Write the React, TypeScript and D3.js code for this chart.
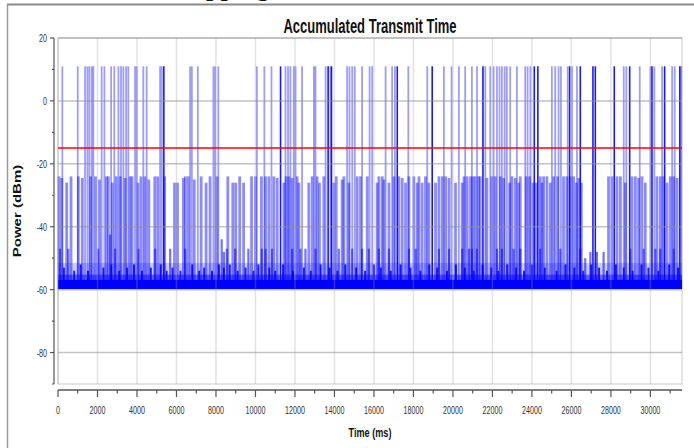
import React from 'react';
import * as d3 from 'd3';

const X_MAX = 31600;
const Y_MIN = -90;
const Y_MAX = 20;
const THRESHOLD = -15;
const FLOOR_BOTTOM = -59.8;
const FLOOR_SOLID_TOP = -56.8;
const FLOOR_HAZE_TOP = -55.2;
const FLOOR_MIST_TOP = -51.5;
const HIGH_LEVEL = 11;

const TITLE = 'Accumulated Transmit Time';
const X_LABEL = 'Time (ms)';
const Y_LABEL = 'Power (dBm)';

const xTickValues = [0, 2000, 4000, 6000, 8000, 10000, 12000, 14000, 16000, 18000, 20000, 22000, 24000, 26000, 28000, 30000];
const xMinorValues = [1000, 3000, 5000, 7000, 9000, 11000, 13000, 15000, 17000, 19000, 21000, 23000, 25000, 27000, 29000, 31000];
const yTickValues = [20, 0, -20, -40, -60, -80];
const yMinorValues = [10, -10, -30, -50, -70, -90];

// bursts reaching ~ +11 dBm (time in ms)
const highSpikes = [
  220, 1000, 1370, 1490, 1590, 1710, 1790, 2210, 2350, 2690, 2850, 3060, 3190, 3310, 3450, 3560,
  3900, 3990, 4320, 4490, 5170, 5260, 6690, 6780, 7080, 7870, 7960, 8120, 10070, 10450,
  10810, 11520, 11650, 11770, 11940, 12030, 12360, 12960, 13040, 13550, 13800, 14640, 14760,
  14900, 15030, 15400, 15780, 15910, 16590, 16920, 17060, 17740, 18700, 19540, 19930,
  20300, 20620, 20960, 21220, 21640, 21890, 22060, 22230, 22360, 22480, 22620, 22730, 22900,
  23240, 23660, 23780, 23920, 25010, 25180, 25350, 25470, 25810, 26030, 26280, 28650, 28780,
  29460, 30000, 30200, 30590, 31100, 31230, 31560,
];
// the darker (overlapping) high bursts
const highDark = [
  5360, 11270, 13680, 13850, 17180, 18950, 21520, 24120, 24300, 25910, 26450, 27090, 27210,
  28170, 28950, 30080, 30720, 31490,
];
// bursts reaching about -24 dBm: [time, level]
const midSpikes: [number, number][] = [
  [50, -24], [190, -24.5], [440, -26], [660, -24], [1030, -24], [1230, -24.5], [1650, -24], [1900, -24],
  [2100, -25], [2450, -24], [2550, -24], [2750, -26], [2950, -24], [3150, -24], [3400, -24.5], [3650, -24],
  [3750, -24], [4050, -26], [4200, -24], [4400, -24], [4600, -25], [4900, -24], [5050, -24], [5400, -24],
  [5900, -26], [6050, -26], [6350, -24.5], [6450, -24], [6600, -24], [6900, -25], [7250, -24], [7500, -26],
  [7700, -24], [8050, -24], [8600, -24], [8850, -26], [9000, -26], [9200, -24], [9400, -26], [9800, -24],
  [10000, -24], [10300, -24], [10510, -24], [10680, -24], [10930, -24], [11100, -24.5], [11440, -26],
  [11550, -24], [11690, -24], [11860, -24.5], [12110, -24], [12200, -26], [12700, -26], [12870, -24],
  [13120, -24], [13240, -26], [13460, -24], [13970, -26], [14090, -24], [14390, -25], [14480, -24],
  [14730, -26], [15150, -24], [15320, -24], [15660, -24], [16160, -26], [16250, -24], [16420, -24],
  [16500, -25], [16760, -26], [17010, -24], [17260, -24], [17430, -24.5], [17600, -26], [17770, -24],
  [18020, -24], [18190, -26], [18280, -24], [18440, -26], [18610, -24], [18780, -26], [19120, -26],
  [19290, -24], [19460, -24], [19630, -24], [19800, -24.5], [20130, -26], [20470, -26], [20560, -24],
  [20720, -24], [20890, -24], [21010, -24], [21130, -24], [21300, -24], [21380, -24], [21720, -24.5],
  [21970, -24], [22140, -24], [22400, -24], [22570, -24.5], [22870, -26], [22990, -24], [23160, -24.5],
  [23330, -26], [23410, -24], [23710, -24], [23880, -24], [24050, -26], [24220, -26], [24420, -24],
  [24510, -26], [24590, -24], [24760, -24], [24930, -26], [25100, -24], [25300, -24], [25600, -24],
  [25770, -24], [25940, -24], [26110, -24], [26250, -26], [26370, -24.5], [26500, -26], [27880, -24],
  [28050, -24], [28310, -24], [28480, -24], [28730, -26], [29070, -24], [29240, -24], [29400, -24.5],
  [29570, -24], [29740, -26], [30330, -24], [30500, -24], [30670, -24], [30840, -26], [31010, -24],
  [31180, -24], [31350, -24.5],
];
// short bursts in the -42 ... -50 dBm band: [time, level]
const lowSpikes: [number, number][] = [
  [100, -47], [520, -47], [2040, -47], [2640, -42.5], [2890, -47], [4070, -47], [4920, -47], [5680, -47],
  [6440, -47], [8290, -44], [8400, -48], [8550, -47], [8970, -47], [9640, -47], [10320, -47], [10510, -47],
  [10840, -47], [11860, -47], [12280, -47], [12530, -47], [13040, -47], [14220, -47], [14900, -47],
  [15400, -47], [15740, -47], [16250, -47], [16760, -47], [17770, -47], [18110, -47], [19290, -47],
  [19800, -47], [20470, -47], [20810, -47], [20960, -47], [21210, -47], [22230, -47], [22480, -47],
  [23070, -47], [23410, -47], [24420, -47], [25440, -47], [26450, -47], [26700, -50], [26960, -48],
  [27290, -48], [27630, -48], [28980, -47], [29660, -47], [30250, -47], [30500, -47], [31180, -47],
];
// ragged top of the noise floor: [time, level]
const rippleSpikes: [number, number][] = [
  [300, -53], [820, -54], [1150, -52], [1520, -54], [2300, -53], [2700, -52], [3100, -54], [3500, -53],
  [3850, -52], [4250, -54], [4700, -53], [5200, -52], [5500, -54], [5800, -53], [6200, -54], [6800, -52],
  [7150, -54], [7400, -53], [7800, -54], [8150, -52], [8400, -53], [8700, -52], [9100, -54], [9500, -53],
  [9900, -54], [10150, -52], [10700, -53], [11000, -54], [11400, -52], [11900, -54], [12450, -53],
  [12800, -54], [13300, -52], [13750, -53], [14150, -54], [14550, -52], [15100, -53], [15550, -54],
  [16000, -52], [16350, -53], [16850, -54], [17350, -52], [17850, -53], [18350, -54], [18800, -52],
  [19200, -53], [19700, -54], [20150, -52], [20600, -53], [21050, -54], [21500, -52], [21950, -53],
  [22300, -54], [22750, -52], [23200, -53], [23600, -54], [24000, -52], [24650, -53], [25250, -54],
  [25700, -52], [26150, -53], [26600, -54], [27000, -52], [27400, -53], [27800, -54], [28250, -52],
  [28650, -53], [29100, -54], [29550, -52], [29900, -53], [30400, -54], [30950, -52], [31400, -53],
];

const W = 694;
const H = 448;
const PLOT = { left: 58, right: 682, top: 38, bottom: 384 };
const Y_AXIS_X = 54;
const X_AXIS_Y = 390;
const FONT = '"Liberation Sans", Arial, sans-serif';
const SQUASH = 0.65;

export default function App() {
  const x = d3.scaleLinear().domain([0, X_MAX]).range([PLOT.left, PLOT.right]);
  const y = d3.scaleLinear().domain([Y_MIN, Y_MAX]).range([PLOT.bottom, PLOT.top]);
  const yFloor = y(FLOOR_BOTTOM);

  return (
    <div style={{ position: 'absolute', left: 0, top: 0, width: W, height: H, background: '#fff' }}>
      <svg width={W} height={H} viewBox={`0 0 ${W} ${H}`} style={{ display: 'block' }}>
        <rect x={0} y={0} width={W} height={H} fill="#fff" />
        {/* clipped caption from the page above */}
        <text x={206} y={-4} fontFamily='"Liberation Serif", serif' fontWeight="bold" fontSize={26} fill="#111">
          pping
        </text>
        {/* outer frame */}
        <line x1={7} x2={W} y1={4.5} y2={4.5} stroke="#8a8a8a" strokeWidth={2} />
        <line x1={7.5} x2={7.5} y1={4} y2={H} stroke="#9a9a9a" strokeWidth={1.5} />

        {/* title */}
        <g transform={`translate(${(PLOT.left + PLOT.right) / 2},33) scale(${SQUASH},1)`}>
          <text textAnchor="middle" fontFamily={FONT} fontWeight="bold" fontSize={20} fill="#111">
            {TITLE}
          </text>
        </g>

        <rect x={PLOT.left} y={PLOT.top} width={PLOT.right - PLOT.left} height={PLOT.bottom - PLOT.top} fill="#fff" stroke="#dcdcdc" strokeWidth={1.5} />

        {/* noise floor */}
        <rect x={PLOT.left} width={PLOT.right - PLOT.left} y={y(FLOOR_MIST_TOP)} height={y(FLOOR_HAZE_TOP) - y(FLOOR_MIST_TOP)} fill="#0000ff" opacity={0.2} />
        <rect x={PLOT.left} width={PLOT.right - PLOT.left} y={y(FLOOR_HAZE_TOP)} height={y(FLOOR_SOLID_TOP) - y(FLOOR_HAZE_TOP)} fill="#0000ff" opacity={0.6} />
        <rect x={PLOT.left} width={PLOT.right - PLOT.left} y={y(FLOOR_SOLID_TOP)} height={yFloor - y(FLOOR_SOLID_TOP)} fill="#0000ff" />

        {rippleSpikes.map(([t, v], i) => (
          <line key={'r' + i} x1={x(t)} x2={x(t)} y1={yFloor} y2={y(v)} stroke="#0000ff" strokeWidth={2} opacity={0.85} />
        ))}
        {lowSpikes.map(([t, v], i) => (
          <line key={'l' + i} x1={x(t)} x2={x(t)} y1={yFloor} y2={y(v)} stroke="#0000ff" strokeWidth={2.2} opacity={0.55} />
        ))}
        {midSpikes.map(([t, v], i) => (
          <line key={'m' + i} x1={x(t)} x2={x(t)} y1={yFloor} y2={y(v)} stroke="#0000ff" strokeWidth={2.8} opacity={0.45} />
        ))}
        {highSpikes.map((t, i) => (
          <line key={'h' + i} x1={x(t)} x2={x(t)} y1={yFloor} y2={y(HIGH_LEVEL)} stroke="#0000ff" strokeWidth={1.8} opacity={0.38} />
        ))}
        {highDark.map((t, i) => (
          <line key={'d' + i} x1={x(t)} x2={x(t)} y1={yFloor} y2={y(HIGH_LEVEL)} stroke="#0000ff" strokeWidth={1.6} opacity={0.9} />
        ))}

        {/* grid on top */}
        {xTickValues.map((v) => (
          <line key={'gx' + v} x1={x(v)} x2={x(v)} y1={PLOT.top} y2={PLOT.bottom} stroke="#a0a0a0" strokeOpacity={0.3} strokeWidth={1.5} />
        ))}
        {yTickValues.map((v) => (
          <line key={'gy' + v} x1={PLOT.left} x2={PLOT.right} y1={y(v)} y2={y(v)} stroke="#909090" strokeOpacity={0.55} strokeWidth={1.5} />
        ))}

        {/* threshold */}
        <line x1={PLOT.left} x2={PLOT.right} y1={y(THRESHOLD)} y2={y(THRESHOLD)} stroke="#ff0000" strokeWidth={1.5} />

        {/* y axis */}
        <line x1={Y_AXIS_X} x2={Y_AXIS_X} y1={PLOT.top} y2={PLOT.bottom} stroke="#555" strokeWidth={1.2} />
        {yTickValues.map((v) => (
          <g key={'yt' + v}>
            <line x1={Y_AXIS_X - 4} x2={Y_AXIS_X} y1={y(v)} y2={y(v)} stroke="#555" strokeWidth={1.2} />
            <g transform={`translate(47,${y(v) + 4}) scale(${SQUASH},1)`}>
              <text textAnchor="end" fontFamily={FONT} fontSize={11} fill="#333">{v}</text>
            </g>
          </g>
        ))}
        {yMinorValues.map((v) => (
          <line key={'ym' + v} x1={Y_AXIS_X - 2} x2={Y_AXIS_X} y1={y(v)} y2={y(v)} stroke="#555" strokeWidth={1.2} />
        ))}
        <g transform={`translate(21,${(PLOT.top + PLOT.bottom) / 2}) scale(0.7,1) rotate(-90)`}>
          <text textAnchor="middle" fontFamily={FONT} fontWeight="bold" fontSize={15} fill="#111">{Y_LABEL}</text>
        </g>

        {/* x axis */}
        <line x1={PLOT.left} x2={PLOT.right} y1={X_AXIS_Y} y2={X_AXIS_Y} stroke="#555" strokeWidth={1.5} />
        {xTickValues.map((v) => (
          <g key={'xt' + v}>
            <line x1={x(v)} x2={x(v)} y1={X_AXIS_Y} y2={X_AXIS_Y + 7} stroke="#555" strokeWidth={1.2} />
            <g transform={`translate(${x(v)},414) scale(${SQUASH},1)`}>
              <text textAnchor="middle" fontFamily={FONT} fontSize={11} fill="#333">{v}</text>
            </g>
          </g>
        ))}
        {xMinorValues.map((v) => (
          <line key={'xm' + v} x1={x(v)} x2={x(v)} y1={X_AXIS_Y} y2={X_AXIS_Y + 3.5} stroke="#555" strokeWidth={1.2} />
        ))}
        <g transform={`translate(370,437) scale(0.7,1)`}>
          <text textAnchor="middle" fontFamily={FONT} fontWeight="bold" fontSize={13} fill="#111">{X_LABEL}</text>
        </g>
      </svg>
    </div>
  );
}
